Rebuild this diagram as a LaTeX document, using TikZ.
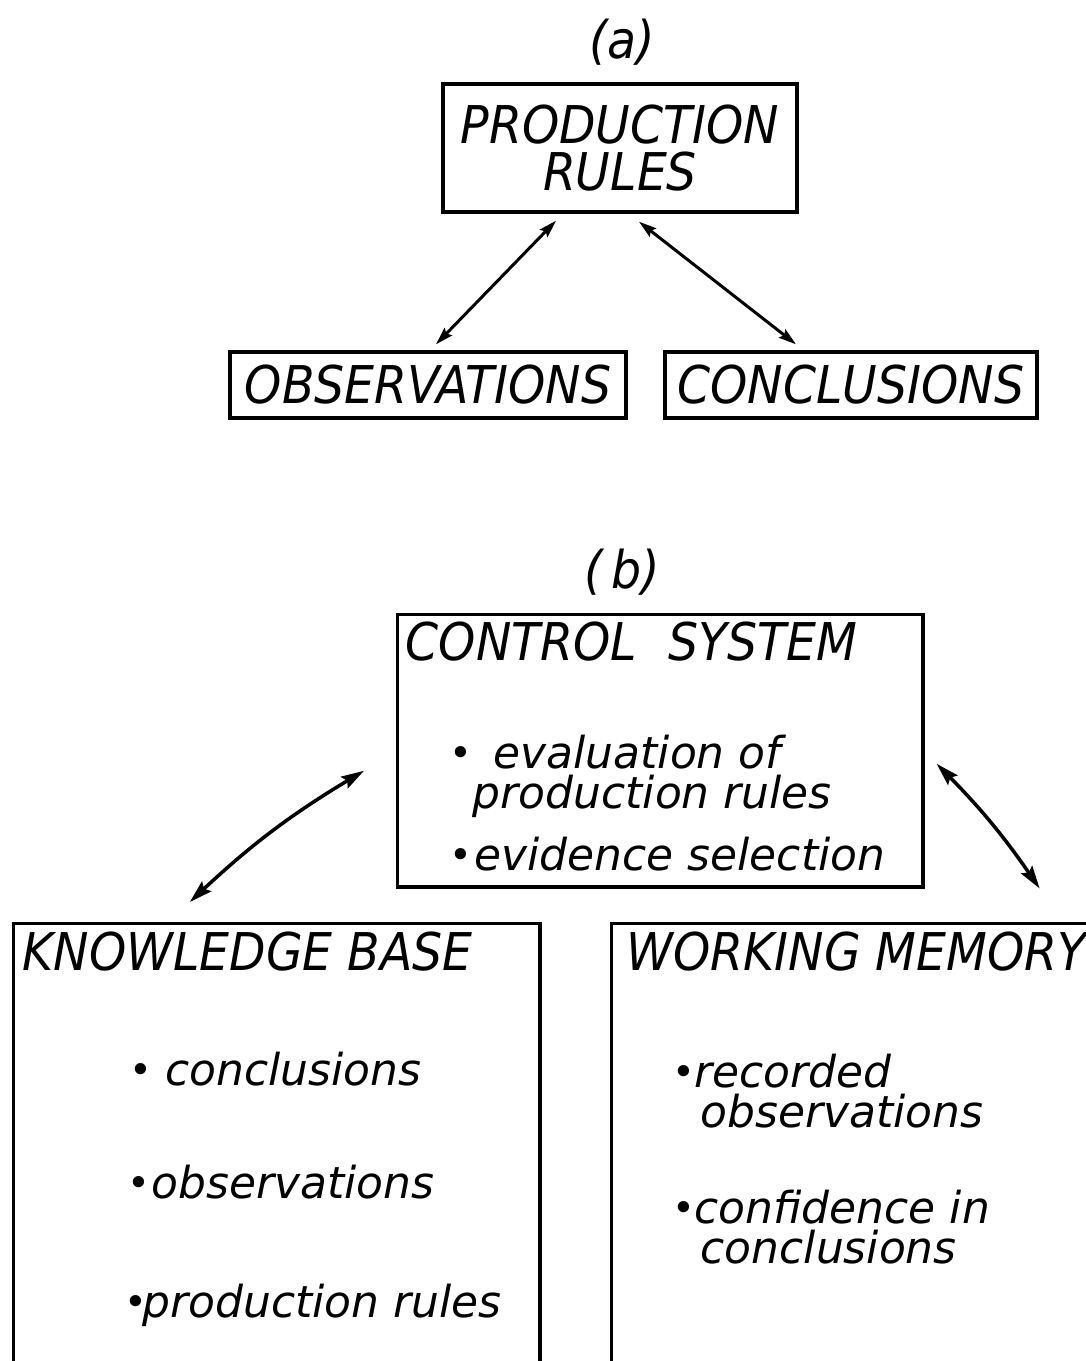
\documentclass[tikz,border=0pt]{standalone}
\usepackage{fontspec}
\setmainfont{DejaVu Sans}[FakeStretch=0.91]
\newfontfamily\itemfont{DejaVu Sans}
\usetikzlibrary{arrows.meta}

% small dot in front of a listed item, then a gap
\newcommand{\itemdot}[1]{\raisebox{0.3pt}{\fontsize{11}{11}\selectfont\textbullet}\hspace{#1}}

\begin{document}
\begin{tikzpicture}[x=0.01cm,y=-0.01cm,
    every node/.style={font=\fontsize{14.8}{13.4}\selectfont\itshape},
    panel/.style={draw,line width=0.95pt,inner sep=0pt},
    txt/.style={inner sep=0pt,anchor=base west},
    item/.style={txt,font=\fontsize{12.5}{14}\selectfont\itemfont\itshape},
    link/.style={{Stealth[length=5pt,width=3pt,inset=0.8pt]}-{Stealth[length=5pt,width=3pt,inset=0.8pt]},
        line width=0.85pt},
    biglink/.style={link,{Stealth[length=6.5pt,width=3.8pt,inset=1pt]}-{Stealth[length=6.5pt,width=3.8pt,inset=1pt]},
        line width=1pt}]
  \useasboundingbox (0,0) rectangle (1086,1361);
  \clip (0,0) rectangle (1086,1361);

  % part (a)
  \node (capa) at (622,42) {(a)};
  \node[panel,minimum width=3.54cm,minimum height=1.28cm,align=center] (rules) at (620,148) {PRODUCTION\\RULES};
  \node[panel,minimum width=3.96cm,minimum height=0.66cm] (obs) at (428,385) {OBSERVATIONS};
  \node[panel,minimum width=3.72cm,minimum height=0.66cm] (conc) at (851,385) {CONCLUSIONS};
  \draw[link] ([shift={(-64,7)}]rules.south) -- ([shift={(8,-6)}]obs.north);
  \draw[link] ([shift={(19,8)}]rules.south) -- ([shift={(-55,-6)}]conc.north);

  % part (b)
  \node (capb) at (622,572) {(\,b)};
  \node[panel,minimum width=5.25cm,minimum height=2.72cm,anchor=north west] (ctrl) at (396,613) {};
  \node[panel,minimum width=5.26cm,minimum height=5cm,anchor=north west] (kb) at (12,922) {};
  \node[panel,minimum width=5.6cm,minimum height=5cm,anchor=north west] (wm) at (610,922) {};

  \node[txt] (cs) at (405,660) {CONTROL\hspace{0.6em}SYSTEM};
  \node[txt] (ks) at (22,970) {KNOWLEDGE BASE};
  \node[txt] (ws) at (626,970) {WORKING MEMORY};

  \foreach \nm/\xx/\yy/\tx in {c1/449/768/{\itemdot{0.21cm}evaluation of},
      c2/472/808/{production rules},
      c3/449/870/{\itemdot{0.02cm}evidence selection},
      k1/129/1085/{\itemdot{0.13cm}conclusions},
      k2/127/1198/{\itemdot{0.01cm}observations},
      k3/124/1317/{\itemdot{-0.05cm}production rules},
      w1/672/1087/{\itemdot{-0.01cm}recorded},
      w2/700/1127/{observations},
      w3/672/1223/{\itemdot{-0.01cm}confidence in},
      w4/700/1263/{conclusions}}
    \node[item] (\nm) at (\xx,\yy) {\tx};

  \draw[biglink] ([shift={(-32,20)}]ctrl.west) to[bend right=6] ([shift={(-87,-20)}]kb.north);
  \draw[biglink] ([shift={(12,13)}]ctrl.east) to[bend left=5] ([shift={(115,0)}]ctrl.south east);
\end{tikzpicture}
\end{document}
